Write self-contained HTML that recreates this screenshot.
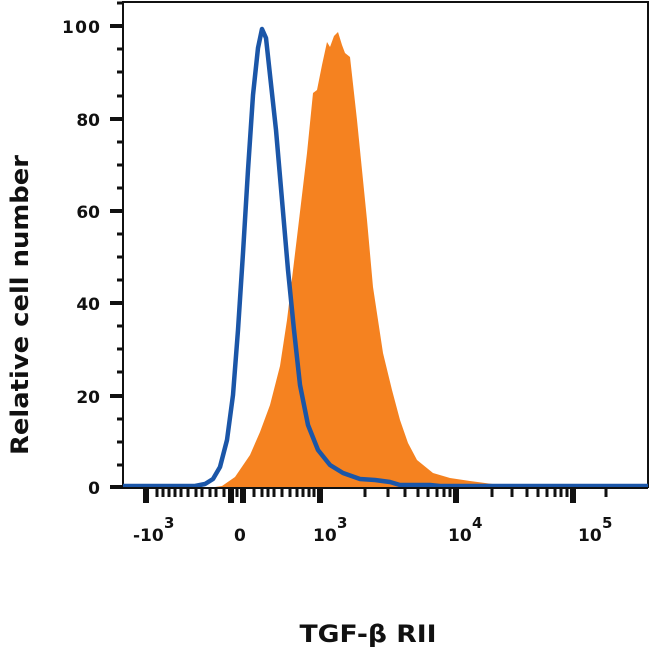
<!DOCTYPE html>
<html><head><style>body{margin:0;background:#fff}svg{display:block}text{font-family:"DejaVu Sans","Liberation Sans",sans-serif;font-weight:bold;fill:#111}</style></head>
<body>
<svg width="650" height="652" viewBox="0 0 650 652">
<path d="M123,488 L123,2 L648,2 L648,488" fill="none" stroke="#111" stroke-width="2"/>
<path d="M208,488 L222,486 L235,477 L250,455 L260,432 L270,405 L280,366 L287,320 L297,237 L307,153 L313,93 L317,90 L322,65 L327,42 L330,47 L334,36 L338,32 L342,45 L345,53 L350,57 L357,120 L362,170 L367,220 L373,287 L383,353 L392,390 L400,420 L408,443 L417,460 L433,473 L450,478 L470,481 L500,485 L500,488 Z" fill="#f58220"/>
<path d="M123,486 L195,486 L205,484 L213,479 L220,467 L227,440 L233,395 L238,330 L243,253 L248,170 L253,95 L258,48 L262,29 L266,38 L270,75 L276,130 L282,200 L288,270 L294,330 L300,385 L308,425 L318,450 L330,465 L343,473 L360,479 L375,480 L390,482 L400,485 L430,485 L440,486 L648,486" fill="none" stroke="#1b56a8" stroke-width="4.5" stroke-linejoin="round"/>
<line x1="123" y1="488" x2="648" y2="488" stroke="#111" stroke-width="2"/>
<g stroke="#111" stroke-width="4">
<line x1="110" y1="26" x2="123" y2="26"/><line x1="110" y1="119" x2="123" y2="119"/><line x1="110" y1="211" x2="123" y2="211"/><line x1="110" y1="303" x2="123" y2="303"/><line x1="110" y1="396" x2="123" y2="396"/><line x1="110" y1="487" x2="123" y2="487"/>
</g>
<g stroke="#111" stroke-width="3">
<line x1="117" y1="49" x2="123" y2="49"/><line x1="117" y1="72" x2="123" y2="72"/><line x1="117" y1="96" x2="123" y2="96"/>
<line x1="117" y1="142" x2="123" y2="142"/><line x1="117" y1="165" x2="123" y2="165"/><line x1="117" y1="188" x2="123" y2="188"/>
<line x1="117" y1="234" x2="123" y2="234"/><line x1="117" y1="257" x2="123" y2="257"/><line x1="117" y1="280" x2="123" y2="280"/>
<line x1="117" y1="326" x2="123" y2="326"/><line x1="117" y1="349" x2="123" y2="349"/><line x1="117" y1="372" x2="123" y2="372"/>
<line x1="117" y1="419" x2="123" y2="419"/><line x1="117" y1="442" x2="123" y2="442"/><line x1="117" y1="465" x2="123" y2="465"/>
<line x1="117" y1="3" x2="123" y2="3"/>
</g>
<g stroke="#111" stroke-width="6">
<line x1="146" y1="489" x2="146" y2="503"/><line x1="231" y1="489" x2="231" y2="503"/><line x1="243" y1="489" x2="243" y2="503"/><line x1="320" y1="489" x2="320" y2="503"/><line x1="456" y1="489" x2="456" y2="503"/><line x1="573" y1="489" x2="573" y2="503"/>
</g>
<g stroke="#111" stroke-width="3">
<line x1="157" y1="489" x2="157" y2="497"/><line x1="163" y1="489" x2="163" y2="497"/><line x1="169" y1="489" x2="169" y2="497"/><line x1="175" y1="489" x2="175" y2="497"/><line x1="181" y1="489" x2="181" y2="497"/><line x1="188" y1="489" x2="188" y2="497"/><line x1="196" y1="489" x2="196" y2="497"/><line x1="202" y1="489" x2="202" y2="497"/><line x1="210" y1="489" x2="210" y2="497"/><line x1="216" y1="489" x2="216" y2="497"/><line x1="224" y1="489" x2="224" y2="497"/><line x1="237" y1="489" x2="237" y2="497"/>
<line x1="254" y1="489" x2="254" y2="497"/><line x1="262" y1="489" x2="262" y2="497"/><line x1="268" y1="489" x2="268" y2="497"/><line x1="274" y1="489" x2="274" y2="497"/><line x1="282" y1="489" x2="282" y2="497"/><line x1="290" y1="489" x2="290" y2="497"/><line x1="297" y1="489" x2="297" y2="497"/><line x1="303" y1="489" x2="303" y2="497"/><line x1="309" y1="489" x2="309" y2="497"/><line x1="314" y1="489" x2="314" y2="497"/>
<line x1="365" y1="489" x2="365" y2="497"/><line x1="388" y1="489" x2="388" y2="497"/><line x1="405" y1="489" x2="405" y2="497"/><line x1="418" y1="489" x2="418" y2="497"/><line x1="428" y1="489" x2="428" y2="497"/><line x1="437" y1="489" x2="437" y2="497"/><line x1="444" y1="489" x2="444" y2="497"/><line x1="450" y1="489" x2="450" y2="497"/>
<line x1="492" y1="489" x2="492" y2="497"/><line x1="512" y1="489" x2="512" y2="497"/><line x1="527" y1="489" x2="527" y2="497"/><line x1="538" y1="489" x2="538" y2="497"/><line x1="547" y1="489" x2="547" y2="497"/><line x1="555" y1="489" x2="555" y2="497"/><line x1="561" y1="489" x2="561" y2="497"/><line x1="567" y1="489" x2="567" y2="497"/><line x1="606" y1="489" x2="606" y2="497"/>
</g>
<g font-size="17" text-anchor="end">
<text x="100" y="33" textLength="38">100</text><text x="100" y="126">80</text><text x="100" y="218">60</text><text x="100" y="310">40</text><text x="100" y="403">20</text><text x="100" y="494">0</text>
</g>
<g font-size="17">
<text x="133" y="541">-10</text><text x="164" y="528" font-size="15">3</text>
<text x="234" y="541">0</text>
<text x="313" y="541">10</text><text x="337" y="528" font-size="15">3</text>
<text x="448" y="541">10</text><text x="472" y="528" font-size="15">4</text>
<text x="578" y="541">10</text><text x="602" y="528" font-size="15">5</text>
</g>
<text x="368" y="642" font-size="24" text-anchor="middle" textLength="137" lengthAdjust="spacingAndGlyphs">TGF-β RII</text>
<text transform="translate(28,305) rotate(-90)" font-size="24" text-anchor="middle" textLength="300" lengthAdjust="spacingAndGlyphs">Relative cell number</text>
</svg>
</body></html>
